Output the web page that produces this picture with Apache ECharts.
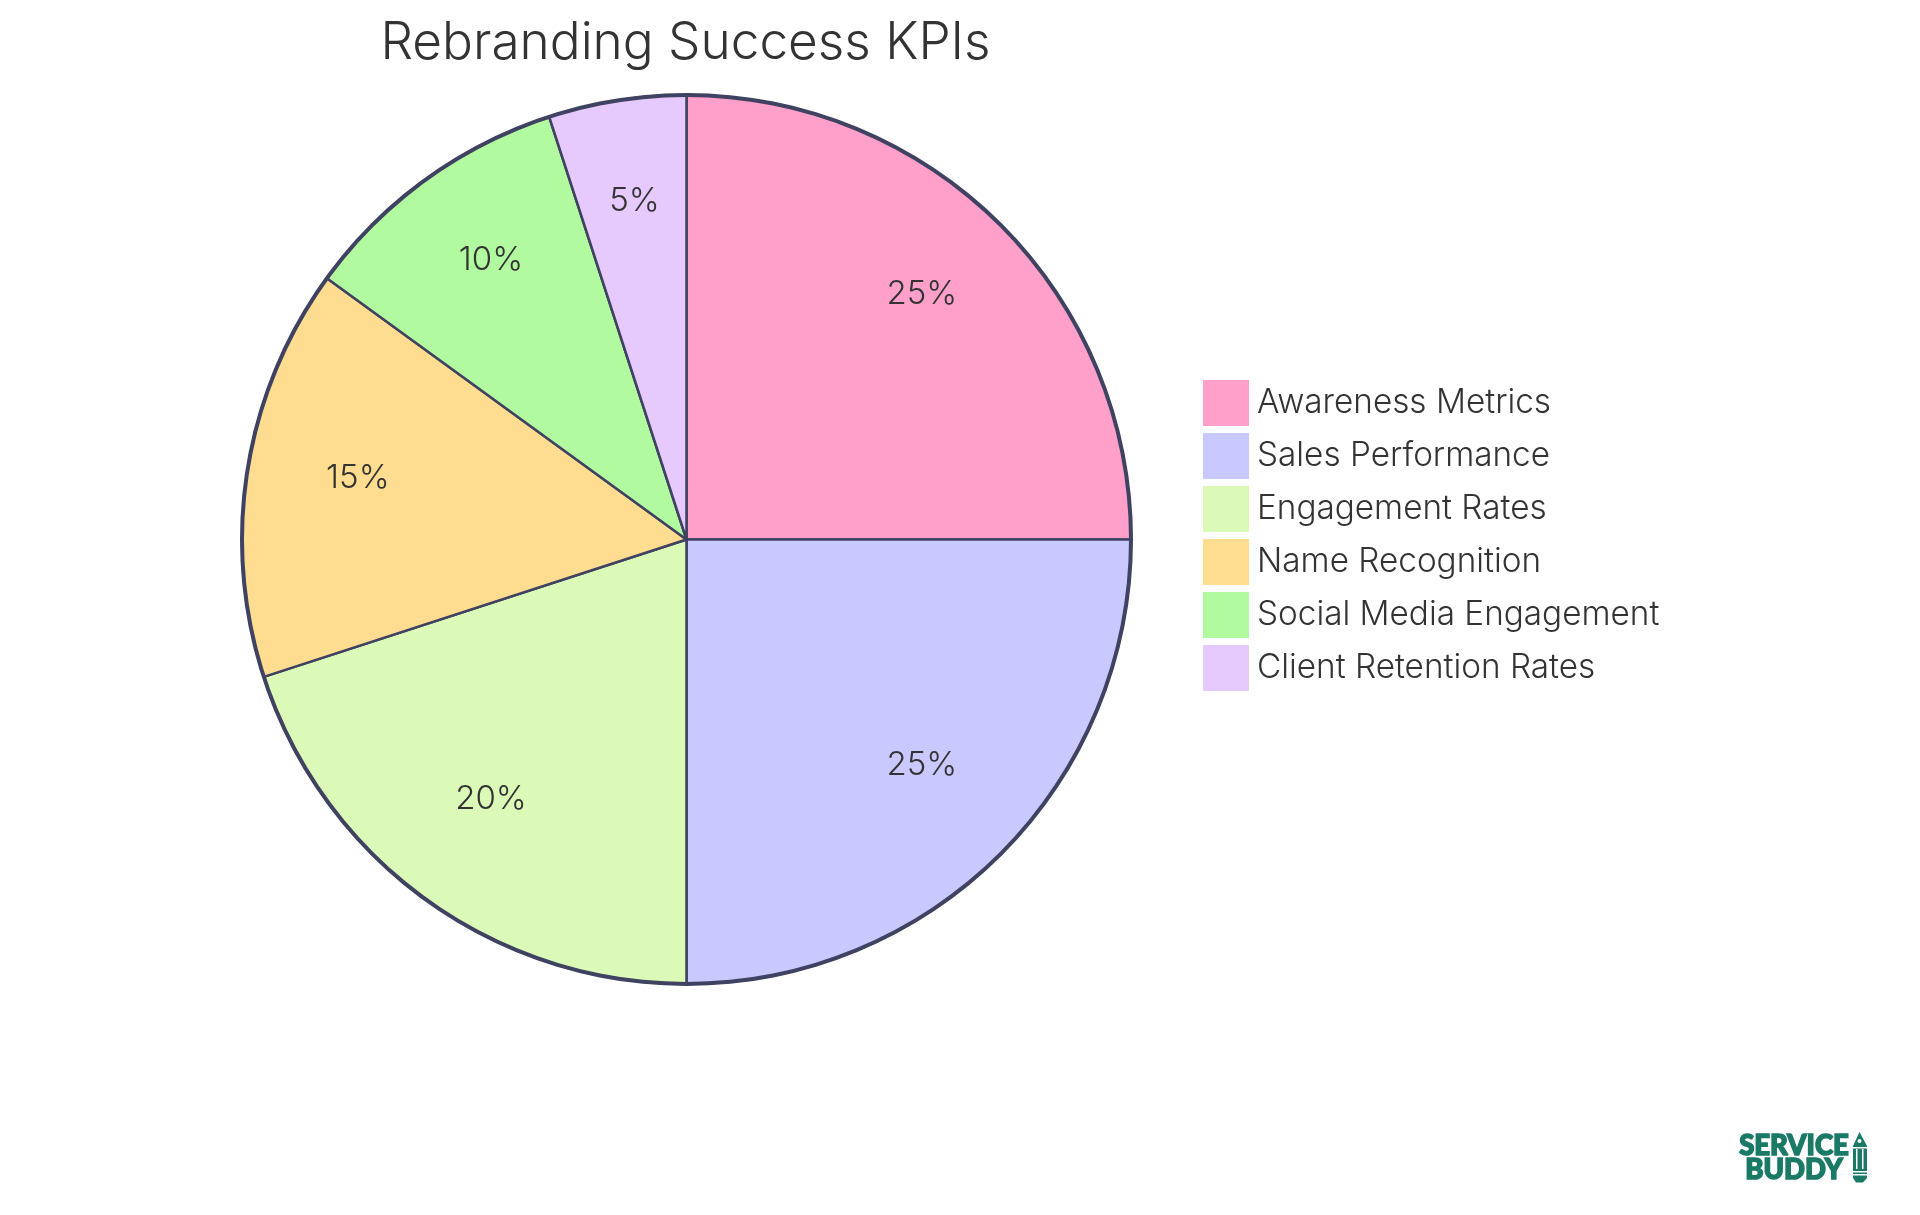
<!DOCTYPE html>
<html><head><meta charset="utf-8">
<style>html,body{margin:0;padding:0;background:#fff}#c{width:1920px;height:1215px}</style>
<script src="https://cdn.jsdelivr.net/npm/echarts@6/dist/echarts.min.js"></script>
</head><body><div id="c"></div>
<script>
const categories=['Awareness Metrics','Sales Performance','Engagement Rates','Name Recognition','Social Media Engagement','Client Retention Rates'];
const values=[25,25,20,15,10,5];
const colors=['#ffa0cb','#c9c9ff','#dbfab8','#ffdd90','#b2fa9f','#e6c9fd'];
const titleText='Rebranding Success KPIs';
const logoLines=['SERVICE','BUDDY'];
const edge='#3f4260', ink='#333333', brand='#1a7a66', font='Inter, "Noto Sans", sans-serif';
const chart=echarts.init(document.getElementById('c'),null,{renderer:'canvas'});
const center=[686.5,539.5];
const logoText=(t,x,y)=>({type:'text',x,y,style:{text:t,align:'center',verticalAlign:'middle',fontFamily:'Lato, "DejaVu Sans"',fontWeight:900,fontSize:27.5,fill:brand,stroke:brand,lineWidth:1.5}});
chart.setOption({
  animation:false,backgroundColor:'#fff',
  title:{text:titleText,left:680.5,textAlign:'center',top:13,textStyle:{fontFamily:font,fontSize:51.3,fontWeight:300,color:ink}},
  legend:{orient:'vertical',left:1198,top:375,itemWidth:46,itemHeight:46,itemGap:7,selectedMode:false,icon:'rect',data:categories,
    itemStyle:{borderWidth:0},
    textStyle:{fontFamily:font,fontSize:33.3,fontWeight:300,color:ink,padding:[5,0,0,3]}},
  series:[
   {type:'pie',name:'fill',center,radius:[0,444.5],startAngle:90,silent:true,label:{show:false},labelLine:{show:false},
    data:categories.map((n,i)=>({name:n,value:values[i],itemStyle:{color:colors[i],borderColor:edge,borderWidth:2.5}}))},
   {type:'pie',name:'ring',center,radius:[442.5,446.5],silent:true,label:{show:false},labelLine:{show:false},
    data:[{name:'ring',value:1,itemStyle:{color:edge}}]},
   {type:'pie',name:'labels',center,radius:[215,444.5],startAngle:90,silent:true,avoidLabelOverlap:false,labelLine:{show:false},
    label:{show:true,position:'inside',offset:[0,-9.8],formatter:'{c}%',fontFamily:font,fontSize:33,fontWeight:300,color:ink},
    data:categories.map((n,i)=>({name:n,value:values[i],itemStyle:{color:'transparent',borderWidth:0}}))}
  ],
  graphic:[
   logoText(logoLines[0],1794,1146),
   logoText(logoLines[1],1794,1170),
   {type:'polygon',shape:{points:[[1859.5,1132],[1867,1146],[1867,1178],[1863,1182.5],[1856,1182.5],[1853,1178],[1853,1146]]},style:{fill:brand}},
   {type:'circle',shape:{cx:1859.5,cy:1141,r:2},style:{fill:'#fff'}},
   {type:'rect',shape:{x:1853,y:1147,width:14,height:1.5},style:{fill:'#fff'}},
   {type:'rect',shape:{x:1856,y:1149,width:1.5,height:20},style:{fill:'#fff'}},
   {type:'rect',shape:{x:1862,y:1149,width:1.5,height:20},style:{fill:'#fff'}},
   {type:'rect',shape:{x:1853,y:1171,width:14,height:1.5},style:{fill:'#fff'}},
   {type:'rect',shape:{x:1853,y:1174,width:14,height:1.5},style:{fill:'#fff'}}
  ]
});
</script></body></html>
